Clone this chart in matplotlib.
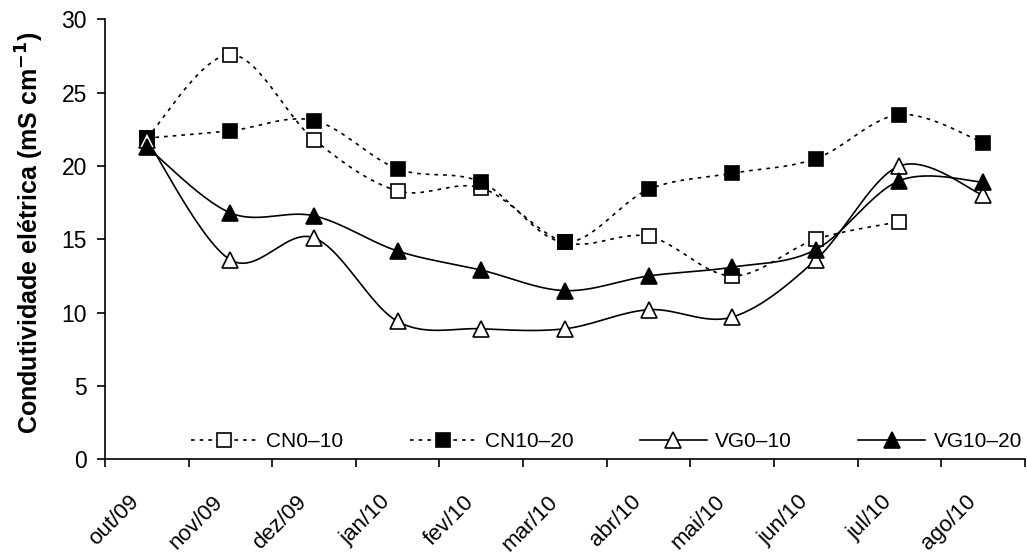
import numpy as np
import matplotlib
matplotlib.use("Agg")
import matplotlib.pyplot as plt
from matplotlib.transforms import ScaledTranslation

plt.rcParams["font.family"] = ["Liberation Sans", "DejaVu Sans"]

# ================================================
# DATA
# ================================================
months = ["out/09", "nov/09", "dez/09", "jan/10", "fev/10", "mar/10",
          "abr/10", "mai/10", "jun/10", "jul/10", "ago/10"]

cn0_10 = [21.9, 27.6, 21.8, 18.3, 18.5, 14.8, 15.2, 12.5, 15.0, 16.2]
cn10_20 = [21.9, 22.4, 23.1, 19.8, 18.9, 14.8, 18.4, 19.5, 20.5, 23.5, 21.6]
vg0_10 = [21.8, 13.6, 15.1, 9.4, 8.9, 8.9, 10.2, 9.7, 13.6, 20.0, 18.0]
vg10_20 = [21.3, 16.8, 16.6, 14.2, 12.9, 11.5, 12.5, 13.1, 14.3, 19.0, 18.9]


# ================================================
# SMOOTH LINE (Excel-like Catmull-Rom)
# ================================================
def smooth(y, n=30):
    y = np.asarray(y, dtype=float)
    x = np.arange(len(y), dtype=float)
    p = np.column_stack([x, y])
    p = np.vstack([p[0], p, p[-1]])
    out = []
    t = np.linspace(0, 1, n)[:, None]
    for i in range(1, len(p) - 2):
        p0, p1, p2, p3 = p[i - 1], p[i], p[i + 1], p[i + 2]
        c1 = p1 + (p2 - p0) / 6
        c2 = p2 - (p3 - p1) / 6
        seg = ((1 - t) ** 3) * p1 + 3 * ((1 - t) ** 2) * t * c1 \
            + 3 * (1 - t) * t ** 2 * c2 + t ** 3 * p2
        out.append(seg)
    seg = np.vstack(out)
    return seg[:, 0], seg[:, 1]


series = [
    ("CN0\u201310", cn0_10, (0, (2.2, 3.0)), "s", "white"),
    ("CN10\u201320", cn10_20, (0, (2.2, 3.0)), "s", "black"),
    ("VG0\u201310", vg0_10, "-", "^", "white"),
    ("VG10\u201320", vg10_20, "-", "^", "black"),
]

fig = plt.figure(figsize=(10.27, 5.58), dpi=100)
ax = fig.add_axes([0.1022, 0.1769, 0.8958, 0.7885])

handles = []
for label, vals, ls, mk, fc in series:
    ms = 9.5 if mk == "s" else 11.5
    xs, ys = smooth(vals)
    ax.plot(xs, ys, color="black", lw=1.2, ls=ls, zorder=2)
    ax.plot(np.arange(len(vals)), vals, ls="none", marker=mk,
            markersize=ms, mfc=fc, mec="black", mew=1.2, zorder=3)
    h, = ax.plot([], [], color="black", lw=1.2, ls=ls, marker=mk,
                 markersize=ms, mfc=fc, mec="black", mew=1.2)
    handles.append((h, label))

ax.set_xlim(-0.5, 10.5)
ax.set_ylim(0, 30)
ax.set_yticks(np.arange(0, 31, 5))
ax.tick_params(axis="y", direction="out", length=6, width=1.2,
               labelsize=16.5, pad=7)

ax.set_xticks(np.arange(-0.5, 10.6, 1))
ax.set_xticklabels([])
ax.tick_params(axis="x", which="major", direction="out", length=6,
               width=1.2)
ax.set_xticks(np.arange(len(months)), minor=True)
ax.set_xticklabels(months, minor=True, rotation=45, ha="right",
                   va="top", rotation_mode="anchor", fontsize=16)
ax.tick_params(axis="x", which="minor", length=0, pad=23)
shift = ScaledTranslation(-18 / 100, 0, fig.dpi_scale_trans)
for lbl in ax.get_xticklabels(minor=True):
    lbl.set_transform(lbl.get_transform() + shift)

for side in ["top", "right"]:
    ax.spines[side].set_visible(False)
for side in ["left", "bottom"]:
    ax.spines[side].set_linewidth(1.2)

ax.set_ylabel("Condutividade el\u00e9trica (mS cm$^{\\mathbf{-1}}$)",
              fontsize=18, fontweight="bold")
ax.yaxis.set_label_coords(-0.064, 0.515)

ax.legend([h for h, _ in handles], [l for _, l in handles], ncol=4,
          loc="center", bbox_to_anchor=(0.545, 0.04), frameon=False,
          fontsize=15, handlelength=3.2, columnspacing=3.2,
          handletextpad=0.4)

fig.savefig("out.png", dpi=100)
